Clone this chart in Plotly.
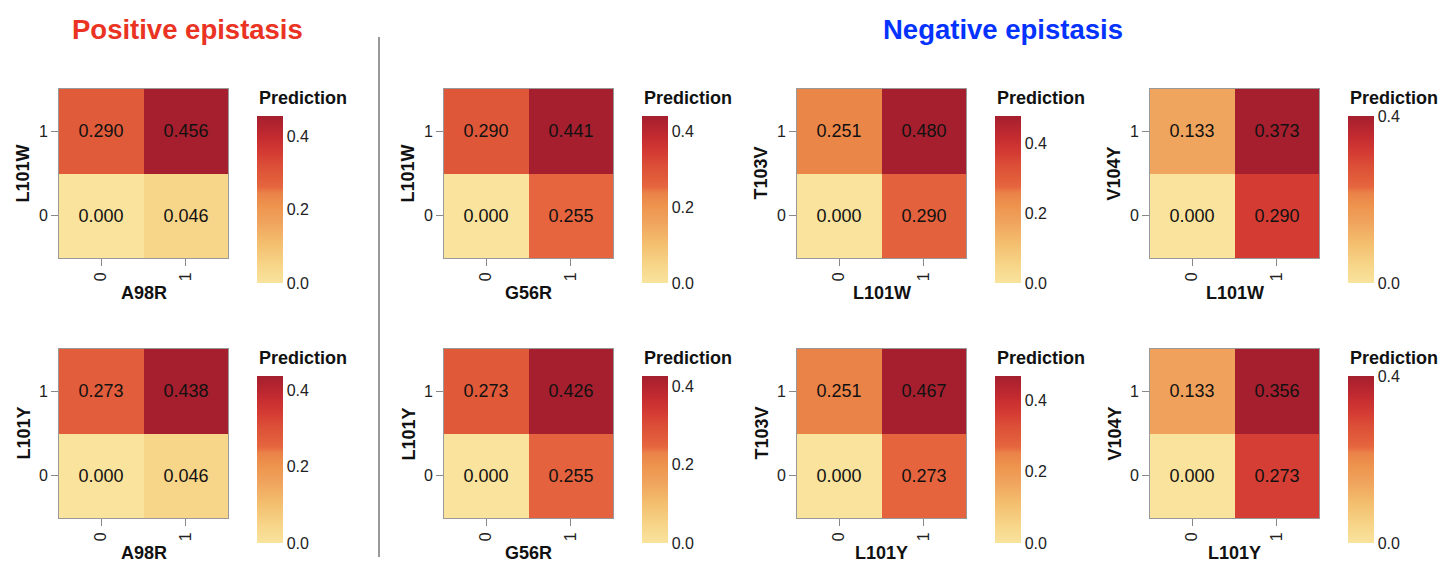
import plotly.graph_objects as go

# ---------------- data ----------------
x_labels = ["A98R", "G56R", "L101W", "L101W", "A98R", "G56R", "L101Y", "L101Y"]
y_labels = ["L101W", "L101W", "T103V", "V104Y", "L101Y", "L101Y", "T103V", "V104Y"]
categories = ["0", "1"]

# z[row for y=0, row for y=1], each row = [x=0, x=1]
z_p1 = [[0.000, 0.046], [0.290, 0.456]]
z_p2 = [[0.000, 0.255], [0.290, 0.441]]
z_p3 = [[0.000, 0.290], [0.251, 0.480]]
z_p4 = [[0.000, 0.290], [0.133, 0.373]]
z_p5 = [[0.000, 0.046], [0.273, 0.438]]
z_p6 = [[0.000, 0.255], [0.273, 0.426]]
z_p7 = [[0.000, 0.273], [0.251, 0.467]]
z_p8 = [[0.000, 0.273], [0.133, 0.356]]
panels = [z_p1, z_p2, z_p3, z_p4, z_p5, z_p6, z_p7, z_p8]

cb_ticks_full = [0.0, 0.2, 0.4]

title_left = "Positive epistasis"
title_right = "Negative epistasis"

# ---------------- style / layout ----------------
W, H = 1442, 564
FONT = "Liberation Sans, Arial, Helvetica, sans-serif"
col_left = [59, 444, 797, 1150]
row_top = [89, 349]
SIZE = 169
CB_GAP = 29
CB_LEN = 167
CB_TOP_OFF = 27
CB_THICK = 26

colorscale = [
    [0.00, "#F9E39D"],
    [0.10, "#F7D68A"],
    [0.25, "#F3BC6C"],
    [0.36, "#F0A45E"],
    [0.45, "#EE964F"],
    [0.54, "#EA8248"],
    [0.575, "#E6663F"],
    [0.64, "#E05A3A"],
    [0.70, "#DC4F37"],
    [0.78, "#D43B33"],
    [0.88, "#C22A30"],
    [1.00, "#A51F2E"],
]

fig = go.Figure()
annotations = []

for i, z in enumerate(panels):
    r, c = divmod(i, 4)
    L = col_left[c]
    T = row_top[r]
    ax = "" if i == 0 else str(i + 1)
    zmax = max(max(row) for row in z)
    ticks = [t for t in cb_ticks_full if t <= zmax]
    if len(ticks) < 3:
        ticks = [0.0, zmax]
    cbL = L + SIZE + CB_GAP
    cbT = T + CB_TOP_OFF

    fig.add_trace(go.Heatmap(
        z=z, x=categories, y=categories,
        xaxis="x" + ax, yaxis="y" + ax,
        zmin=0, zmax=zmax, colorscale=colorscale,
        texttemplate="%{z:.3f}",
        textfont=dict(size=18, color="#111111", family=FONT),
        xgap=0, ygap=0,
        colorbar=dict(
            x=cbL / W, xanchor="left", xpad=0,
            y=1 - cbT / H, yanchor="top", ypad=0,
            len=CB_LEN, lenmode="pixels",
            thickness=CB_THICK, thicknessmode="pixels",
            outlinewidth=0,
            tickvals=ticks, tickformat=".1f",
            ticks="", ticklen=0,
            tickfont=dict(size=16, color="#222222", family=FONT),
        ),
    ))

    axis_common = dict(
        type="category", categoryorder="array", categoryarray=categories,
        showgrid=False, zeroline=False, showline=True, mirror=True,
        linecolor="#999999", linewidth=1,
        ticks="outside", ticklen=7, tickcolor="#888888", tickwidth=1,
        tickfont=dict(size=16, color="#222222", family=FONT),
        fixedrange=True,
    )
    fig.layout["xaxis" + ax] = dict(
        axis_common,
        domain=[L / W, (L + SIZE) / W],
        anchor="y" + ax, tickangle=-90,
    )
    fig.layout["yaxis" + ax] = dict(
        axis_common,
        domain=[1 - (T + SIZE) / H, 1 - T / H],
        anchor="x" + ax,
    )

    # axis titles
    annotations.append(dict(
        text=x_labels[i], xref=f"x{ax} domain", yref=f"y{ax} domain",
        x=0.5, y=0, xanchor="center", yanchor="middle", yshift=-35,
        showarrow=False, font=dict(size=18, color="#111111", family=FONT, weight="bold"),
    ))
    annotations.append(dict(
        text=y_labels[i], xref=f"x{ax} domain", yref=f"y{ax} domain",
        x=0, y=0.5, xanchor="center", yanchor="middle", xshift=-36,
        textangle=-90,
        showarrow=False, font=dict(size=18, color="#111111", family=FONT, weight="bold"),
    ))
    # legend title
    annotations.append(dict(
        text="Prediction", xref="paper", yref="paper",
        x=cbL / W, y=1 - (T + 9) / H, xanchor="left", yanchor="middle",
        showarrow=False, font=dict(size=18, color="#111111", family=FONT, weight="bold"),
    ))

annotations.append(dict(
    text=title_left, xref="paper", yref="paper",
    x=187.5 / W, y=1 - 29 / H, xanchor="center", yanchor="middle",
    showarrow=False, font=dict(size=27.5, color="#EA3323", family=FONT, weight="bold"),
))
annotations.append(dict(
    text=title_right, xref="paper", yref="paper",
    x=1002.5 / W, y=1 - 29 / H, xanchor="center", yanchor="middle",
    showarrow=False, font=dict(size=27.5, color="#0432FF", family=FONT, weight="bold"),
))

fig.update_layout(
    width=W, height=H,
    margin=dict(l=0, r=0, t=0, b=0),
    paper_bgcolor="white", plot_bgcolor="white",
    font=dict(family=FONT),
    annotations=annotations,
    shapes=[dict(
        type="line", xref="paper", yref="paper",
        x0=379 / W, x1=379 / W, y0=1 - 37 / H, y1=1 - 557 / H,
        line=dict(color="#777777", width=1.5),
    )],
)

fig.write_html("out.html")
